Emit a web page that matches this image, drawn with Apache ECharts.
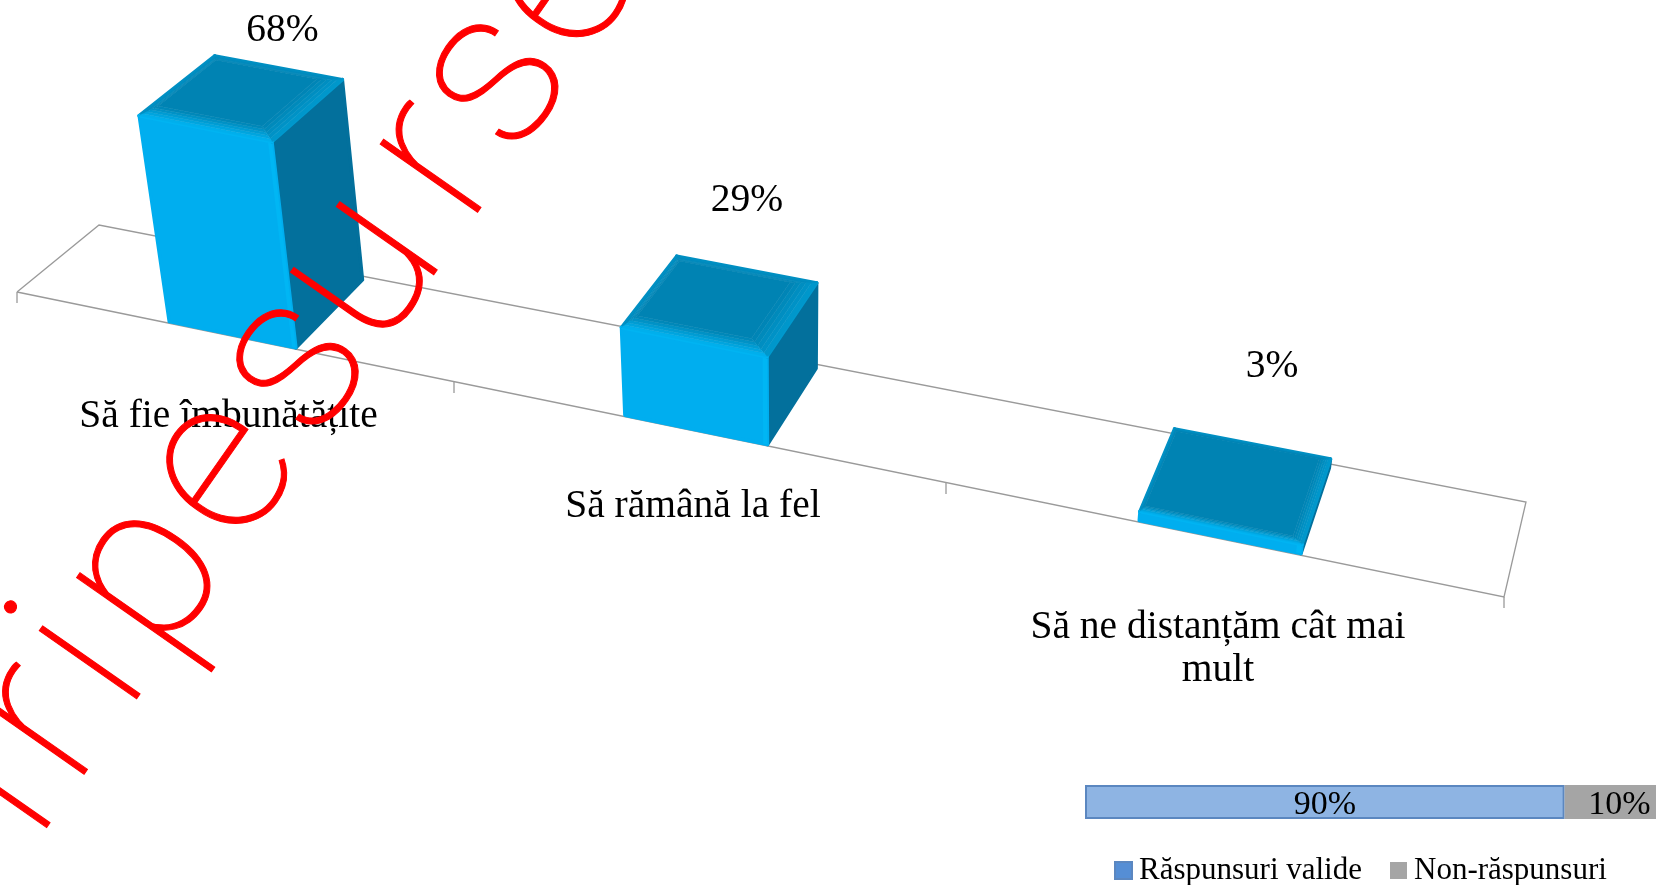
<!DOCTYPE html>
<html>
  <head>
    <meta charset="UTF-8" />
    <title></title>
    <style type="text/css">
      * {
        margin: 0;
        padding: 0;
      }

      #main {
        width: 1656px;
        height: 885px;
        background-color: #fff;
      }
    </style>
  </head>

  <body>
    <div id="main"></div>
  </body>
  <script src="https://cdn.jsdelivr.net/npm/echarts@6/dist/echarts.min.js"></script>
  <script type="text/javascript">
    // values
    var categories = ['Să fie îmbunătățite', 'Să rămână la fel', 'Să ne distanțăm cât mai\nmult']
    var values = [68, 29, 3]
    var validLength = [84]
    var nonLength = [16]
    var validLabel = ['90%']
    var nonLabel = ['10%']
    var legendNames = ['Răspunsuri valide', 'Non-răspunsuri']
    var watermarkLetters = ['i', 'r', 'i', 'p', 'e', 's', 'u', 'r', 's', 'e']

    // layout of the tilted floor, in page pixels
    var plot = { left: 17, top: 297, width: 1487, height: 303 }
    var frontTicks = [[17, 292], [454, 382], [946, 483], [1504, 597]]
    var labelRise = [306, 232, 173]
    var labelDrop = [58, 53, 66]
    var watermarkAt = [-65, 16, 92, 197, 326, 454, 570, 702, 802, 920]
    var FONT = '"Liberation Serif", serif'

    function lerp(a, b, t) {
      return a + (b - a) * t
    }
    function front(s) {
      var i = Math.min(Math.floor(s), frontTicks.length - 2)
      var f = s - i
      return [lerp(frontTicks[i][0], frontTicks[i + 1][0], f), lerp(frontTicks[i][1], frontTicks[i + 1][1], f)]
    }
    // s: position along the category axis in bands, v: depth 0..1, h: height in px
    function project(s, v, h) {
      var p = front(s)
      var k = (p[0] - 17) / 1487
      var x = p[0] + v * lerp(82, 22, k)
      var y = p[1] + v * lerp(-67, -95, k)
      var hh = h * (1 - 0.03 * v)
      return [x + ((x - 790) / 4250) * hh, y - hh]
    }
    function poly(points, color, width) {
      return {
        type: 'polygon',
        shape: { points: points },
        style: { fill: color, stroke: color, lineWidth: width === undefined ? 3.5 : width, lineJoin: 'round' }
      }
    }
    function edgeLine(a, b, color) {
      return {
        type: 'polyline',
        shape: { points: [a, b] },
        style: { stroke: color, lineWidth: 3.5, lineCap: 'round', fill: 'none' }
      }
    }

    function renderBar(params, api) {
      var idx = api.value(0)
      var top = api.coord([idx, api.value(1)])
      var base = api.coord([idx, 0])
      var h = base[1] - top[1]
      var band = (api.size([1, 0])[0] / plot.width) * 3
      var center = ((top[0] - plot.left) / plot.width) * 3 - 0.01
      var s0 = center - band * 0.145
      var s1 = center + band * 0.145
      var v0 = 0.02
      var v1 = 0.96
      // rounded edge of the top face, smaller on a flat bar
      var size = Math.max(0.4, Math.min(1, h / 60))
      var dsR = (s1 - s0) * 0.17 * size
      var dsL = (s1 - s0) * 0.04 * size
      var dvF = 0.17 * size
      var dvB = 0.05 * size
      function inset(t) {
        return {
          FL: project(s0 + dsL * t, v0 + dvF * t, h),
          FR: project(s1 - dsR * t, v0 + dvF * t, h),
          BR: project(s1 - dsR * t, v1 - dvB * t, h),
          BL: project(s0 + dsL * t, v1 - dvB * t, h)
        }
      }

      var outer = inset(0)
      var lowFL = project(s0, v0, 0)
      var lowFR = project(s1, v0, 0)
      var lowBR = project(s1, v1, 0)
      var edge = project(s1 - (s1 - s0) * 0.03, v0, h)
      var edgeLow = project(s1 - (s1 - s0) * 0.03, v0, 0)

      var children = [
        poly([outer.FR, outer.BR, lowBR, lowFR], '#03709C'),
        poly([outer.FL, outer.FR, lowFR, lowFL], '#00AEEF'),
        poly([edge, outer.FR, lowFR, edgeLow], '#00B6F4', 0),
        edgeLine(outer.BL, outer.BR, '#008FC2'),
        edgeLine(outer.FL, outer.BL, '#0090C4'),
        edgeLine(outer.FR, outer.BR, '#0099CE'),
        edgeLine(outer.FL, outer.FR, '#00B4F2')
      ]
      var inner = '#0083B3'
      var steps = 5
      for (var k = 0; k < steps; k++) {
        var a = inset(k / steps)
        var b = inset((k + 1) / steps)
        var t = (k + 0.5) / steps
        children.push(poly([a.BL, a.BR, b.BR, b.BL], echarts.color.lerp(t, ['#008FC2', inner]), 0.5))
        children.push(poly([a.FL, a.BL, b.BL, b.FL], echarts.color.lerp(t, ['#0090C4', inner]), 0.5))
        children.push(poly([a.FR, a.BR, b.BR, b.FR], echarts.color.lerp(t, ['#0099CE', inner]), 0.5))
        children.push(poly([a.FL, a.FR, b.FR, b.FL], echarts.color.lerp(t, ['#00B4F2', inner]), 0.5))
      }
      var c = inset(1)
      children.push(poly([c.FL, c.FR, c.BR, c.BL], inner, 0.5))

      // value label above the bar
      var mid = front(idx + 0.5)
      children.push({
        type: 'text',
        style: {
          text: values[idx] + '%',
          x: mid[0] + 47,
          y: mid[1] - labelRise[idx],
          fontFamily: FONT,
          fontSize: 39.5,
          fill: '#000',
          textAlign: 'center',
          textVerticalAlign: 'middle'
        }
      })
      return { type: 'group', children: children }
    }

    function renderFloor(params, api) {
      var idx = api.value(0)
      var children = []
      var lineStyle = { stroke: '#9A9A9A', lineWidth: 1.3, fill: 'none' }
      if (idx === 0) {
        var n = categories.length
        children.push({
          type: 'polyline',
          shape: { points: [project(0, 0, 0), project(0, 1, 0), project(n, 1, 0), project(n, 0, 0), project(0, 0, 0)] },
          style: lineStyle
        })
        var last = front(n)
        children.push({
          type: 'polyline',
          shape: { points: [last, [last[0], last[1] + 11]] },
          style: lineStyle
        })
      }
      var p = front(idx)
      children.push({
        type: 'polyline',
        shape: { points: [p, [p[0], p[1] + 11]] },
        style: lineStyle
      })
      var mid = front(idx + 0.5)
      children.push({
        type: 'text',
        style: {
          text: categories[idx],
          x: mid[0] - 7,
          y: mid[1] + labelDrop[idx],
          fontFamily: FONT,
          fontSize: 39.5,
          lineHeight: 43,
          fill: '#000',
          textAlign: 'center',
          textVerticalAlign: 'top'
        },
        z2: 5
      })
      return { type: 'group', children: children }
    }

    // watermark letters sit along a baseline rising at 55 degrees
    var wmAngle = (55 * Math.PI) / 180
    var watermark = watermarkLetters.map(function (ch, i) {
      var t = watermarkAt[i]
      var cx = 87 + Math.cos(wmAngle) * t - Math.sin(wmAngle) * 58
      var cy = 773 - Math.sin(wmAngle) * t - Math.cos(wmAngle) * 58
      return {
        type: 'text',
        x: cx,
        y: cy,
        rotation: wmAngle,
        z: 100,
        silent: true,
        style: {
          text: ch,
          fontFamily: 'Roboto',
          fontWeight: 100,
          fontSize: 225,
          fill: '#FF0000',
          stroke: '#FF0000',
          lineWidth: 1,
          textAlign: 'center',
          textVerticalAlign: 'middle'
        }
      }
    })

    var myCharts = echarts.init(document.getElementById('main'))
    var option = {
      animation: false,
      backgroundColor: '#fff',
      grid: [
        { left: plot.left, top: plot.top, width: plot.width, height: plot.height, containLabel: false },
        { left: 1085, top: 785, width: 571, height: 34, containLabel: false }
      ],
      xAxis: [
        { type: 'category', data: categories, show: false, gridIndex: 0 },
        { type: 'value', min: 0, max: 100, show: false, gridIndex: 1 }
      ],
      yAxis: [
        { type: 'value', min: 0, max: 100, show: false, gridIndex: 0 },
        { type: 'category', data: [''], show: false, gridIndex: 1 }
      ],
      legend: {
        left: 1109,
        top: 850,
        itemWidth: 17,
        itemHeight: 17,
        itemGap: 28,
        icon: 'rect',
        textStyle: { fontFamily: FONT, fontSize: 31, color: '#000', padding: [0, 0, 0, 2] },
        data: [
          { name: legendNames[0], itemStyle: { color: '#558ED5' } },
          { name: legendNames[1], itemStyle: { color: '#A5A5A5' } }
        ]
      },
      series: [
        {
          type: 'custom',
          name: 'floor',
          xAxisIndex: 0,
          yAxisIndex: 0,
          clip: false,
          silent: true,
          z: 1,
          renderItem: renderFloor,
          data: categories.map(function (c, i) {
            return [i]
          })
        },
        {
          type: 'custom',
          name: 'bars',
          xAxisIndex: 0,
          yAxisIndex: 0,
          clip: false,
          silent: true,
          z: 2,
          renderItem: renderBar,
          encode: { x: 0, y: 1 },
          data: values.map(function (v, i) {
            return [i, v]
          })
        },
        {
          type: 'bar',
          name: legendNames[0],
          xAxisIndex: 1,
          yAxisIndex: 1,
          stack: 'share',
          barWidth: 34,
          itemStyle: { color: '#8EB4E3', borderColor: '#5B87C0', borderWidth: 2 },
          label: {
            show: true,
            position: 'inside',
            offset: [0, 3],
            formatter: validLabel[0],
            fontFamily: FONT,
            fontSize: 34,
            color: '#000'
          },
          data: validLength
        },
        {
          type: 'bar',
          name: legendNames[1],
          xAxisIndex: 1,
          yAxisIndex: 1,
          stack: 'share',
          barWidth: 34,
          itemStyle: { color: '#A5A5A5' },
          label: {
            show: true,
            position: 'inside',
            offset: [9, 3],
            formatter: nonLabel[0],
            fontFamily: FONT,
            fontSize: 34,
            color: '#000'
          },
          data: nonLength
        }
      ],
      graphic: { elements: watermark }
    }
    myCharts.setOption(option)
  </script>
</html>
